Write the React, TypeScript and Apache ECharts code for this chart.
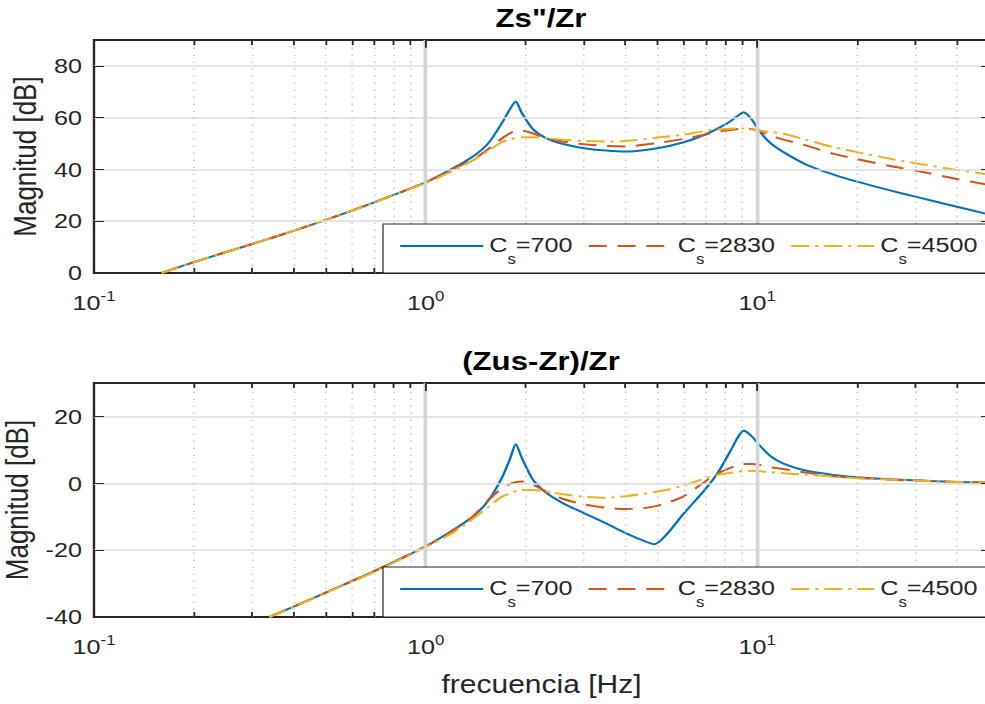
import React, { useEffect, useRef } from 'react';
import * as echarts from 'echarts';

// ---------- data ----------
const seriesNames = ['C_s=700', 'C_s=2830', 'C_s=4500'];

// Upper panel: Zs"/Zr
const freqTop = [0.16, 0.2, 0.3, 0.4, 0.5, 0.7, 1.0, 1.2, 1.4, 1.55, 1.7, 1.8, 1.87, 1.95, 2.1, 2.3, 2.6, 3.0, 3.5, 4.0, 5.0, 6.0, 7.0, 8.0, 8.7, 9.1, 9.6, 10.2, 11, 12, 14, 17, 20, 25, 30, 40, 50];
const topCs700 = [0, 4.2, 11.2, 16.3, 20.5, 27.3, 35.0, 40.2, 45.3, 50.3, 58.0, 63.5, 66.2, 61.8, 55.8, 52.2, 49.8, 48.2, 47.3, 46.9, 48.2, 50.5, 53.6, 57.3, 60.5, 62.1, 59.5, 54.5, 50.0, 46.7, 42.0, 38.0, 35.3, 32.0, 29.5, 25.6, 22.6];
const topCs2830 = [0, 4.2, 11.2, 16.3, 20.5, 27.3, 35.0, 40.0, 44.0, 48.0, 52.0, 54.0, 54.9, 55.0, 54.0, 52.1, 50.8, 49.7, 49.1, 48.9, 50.2, 51.8, 53.5, 55.0, 55.6, 55.9, 55.6, 54.7, 53.0, 51.5, 49.3, 46.0, 44.0, 41.4, 39.6, 36.3, 34.0];
const topCs4500 = [0, 4.2, 11.2, 16.3, 20.5, 27.2, 34.8, 39.3, 43.8, 47.3, 50.6, 51.6, 52.1, 52.4, 52.4, 52.1, 51.5, 51.0, 50.8, 51.0, 52.3, 53.4, 55.0, 55.6, 55.8, 55.8, 55.5, 55.0, 54.4, 53.8, 51.5, 48.6, 46.7, 44.2, 42.4, 39.8, 38.0];

// Lower panel: (Zus-Zr)/Zr
const freqBottom = [0.338, 0.4, 0.5, 0.7, 1.0, 1.2, 1.4, 1.55, 1.7, 1.8, 1.87, 1.95, 2.1, 2.3, 2.6, 3.0, 3.5, 4.0, 4.5, 4.9, 5.3, 6.0, 7.0, 7.7, 8.4, 8.8, 9.1, 9.6, 10.2, 11, 12, 14, 17, 20, 25, 30, 40, 50];
const botCs700 = [-40, -36.9, -32.7, -26.3, -18.9, -14.2, -9.7, -5.0, 1.7, 7.5, 11.7, 7.6, 1.3, -2.7, -6.0, -8.9, -12.0, -14.8, -17.0, -18.2, -15.6, -9.1, -1.6, 4.0, 10.6, 14.2, 15.7, 14.2, 11.2, 8.0, 5.9, 3.8, 2.5, 1.8, 1.2, 0.9, 0.4, 0.2];
const botCs2830 = [-40, -36.9, -32.7, -26.3, -18.9, -14.4, -9.6, -4.9, -1.5, -0.2, 0.3, 0.5, -0.4, -2.4, -4.7, -6.3, -7.3, -7.7, -7.5, -6.9, -6.0, -3.9, 0.7, 3.2, 4.8, 5.5, 5.8, 5.8, 5.5, 4.8, 4.3, 3.2, 2.1, 1.6, 1.1, 0.8, 0.4, 0.2];
const botCs4500 = [-40, -36.9, -32.8, -26.5, -19.1, -15.0, -10.4, -7.0, -4.0, -3.0, -2.4, -2.0, -2.0, -2.5, -3.3, -4.0, -4.3, -3.9, -3.2, -2.6, -2.0, -0.7, 1.6, 2.6, 3.2, 3.5, 3.6, 3.7, 3.6, 3.3, 3.0, 2.6, 2.0, 1.5, 1.1, 0.8, 0.4, 0.2];

// axes
const xMin = 0.1;
const xMax = 50;
const xMajorGrid = [1, 10];
const xMinorGrid = [0.2, 0.3, 0.4, 0.5, 0.6, 0.7, 0.8, 0.9, 2, 3, 4, 5, 6, 7, 8, 9, 20, 30, 40];
const topYMin = 0, topYMax = 90;
const topYGrid = [20, 40, 60, 80];
const botYMin = -40, botYMax = 30;
const botYGrid = [-20, 0, 20];

const titles = ['Zs"/Zr', '(Zus-Zr)/Zr'];
const yName = 'Magnitud [dB]';
const xName = 'frecuencia [Hz]';

// ---------- styling ----------
// The reference figure is stretched horizontally; draw narrower and stretch.
const SX = 1.2;
const W = Math.round(985 / SX);
const STRETCH = 985 / W;
const hx = (v: number) => v / STRETCH;

const COLORS = ['#0072BD', '#D95319', '#EDB120'];
const DASHES: any[] = ['solid', [15, 9], [15, 5, 2.5, 5]];
const FONT = "'Liberation Sans', Arial, Helvetica, sans-serif";
const TXT = '#262626';

const panels = [
  { freq: freqTop, vals: [topCs700, topCs2830, topCs4500], yMin: topYMin, yMax: topYMax, yGrid: topYGrid, top: 40, height: 233, legendTop: 224, legendPadB: 7, nameGap: hx(52), tickLen: 2.0, majLen: 3.0 },
  { freq: freqBottom, vals: [botCs700, botCs2830, botCs4500], yMin: botYMin, yMax: botYMax, yGrid: botYGrid, top: 383, height: 234, legendTop: 567, legendPadB: 8, nameGap: hx(61), tickLen: 1.5, majLen: 2.4 },
];

export default function App() {
  const ref = useRef<HTMLDivElement>(null);
  useEffect(() => {
    if (!ref.current) return;
    const chart = echarts.init(ref.current, null, { renderer: 'svg' });

    const grids: any[] = [];
    const xAxes: any[] = [];
    const yAxes: any[] = [];
    const series: any[] = [];
    const legends: any[] = [];

    panels.forEach((p, pi) => {
      grids.push({
        left: hx(94), right: -hx(4), top: p.top, height: p.height,
        containLabel: false, outerBoundsMode: 'none',
        show: true, borderColor: TXT, borderWidth: 2, backgroundColor: 'transparent', z: 0,
      });
      xAxes.push({
        type: 'log', logBase: 10, gridIndex: pi, min: xMin, max: xMax,
        axisLine: { show: false }, axisTick: { show: false }, splitLine: { show: false },
        axisLabel: {
          margin: 16, showMaxLabel: false, interval: 0, color: TXT,
          formatter: (v: number) => {
            const l = Math.log10(v);
            const e = Math.round(l);
            if (Math.abs(l - e) > 1e-6) return '';
            return `{b|10}{sup|${e}}`;
          },
          rich: {
            b: { fontSize: 21, lineHeight: 24, padding: [4, 0, 0, 0], verticalAlign: 'middle', color: TXT, fontFamily: FONT },
            sup: { fontSize: 14, lineHeight: 14, verticalAlign: 'top', color: TXT, fontFamily: FONT },
          },
        },
        name: pi === 1 ? xName : '', nameLocation: 'middle', nameGap: 55,
        nameTextStyle: { fontSize: 25, color: TXT, fontFamily: FONT },
        z: 5,
      });
      yAxes.push({
        type: 'value', gridIndex: pi, min: p.yMin, max: p.yMax, interval: 20, position: 'left',
        axisLine: { show: false },
        axisTick: { show: true, inside: true, length: hx(10), lineStyle: { color: TXT, width: 1 } },
        axisLabel: { fontSize: 21, color: TXT, margin: hx(12), showMaxLabel: false, fontFamily: FONT },
        splitLine: { show: false },
        name: yName, nameLocation: 'middle', nameGap: p.nameGap,
        nameTextStyle: { fontSize: 26, color: TXT, fontFamily: FONT },
        z: 5,
      });
      yAxes.push({
        type: 'value', gridIndex: pi, min: p.yMin, max: p.yMax, interval: 20, position: 'right',
        axisLine: { show: false },
        axisTick: { show: true, inside: true, length: hx(8), lineStyle: { color: TXT, width: 1 } },
        axisLabel: { show: false }, splitLine: { show: false },
        z: 5,
      });

      const gridLines: any[] = [];
      p.yGrid.forEach((v) => gridLines.push({ yAxis: v, lineStyle: { color: '#dcdcdc', width: 1.5, type: 'solid' } }));
      xMinorGrid.forEach((f) => gridLines.push({ xAxis: f, lineStyle: { color: '#c8c8c8', width: 1.3, type: [1.5, 5.5] } }));
      xMajorGrid.forEach((f) => gridLines.push({ xAxis: f, lineStyle: { color: '#d4d4d4', width: 3, type: 'solid' } }));
      const ticks: any[] = [];
      xMinorGrid.forEach((f) => {
        ticks.push([{ coord: [f, p.yMax] }, { coord: [f, p.yMax - p.tickLen] }]);
        ticks.push([{ coord: [f, p.yMin] }, { coord: [f, p.yMin + p.tickLen] }]);
      });
      xMajorGrid.forEach((f) => {
        ticks.push([{ coord: [f, p.yMax] }, { coord: [f, p.yMax - p.majLen] }]);
        ticks.push([{ coord: [f, p.yMin] }, { coord: [f, p.yMin + p.majLen] }]);
      });

      series.push({
        type: 'line', xAxisIndex: pi, yAxisIndex: pi * 2, data: [], silent: true, z: 1,
        markLine: { silent: true, symbol: ['none', 'none'], label: { show: false }, animation: false, data: gridLines },
      });
      series.push({
        type: 'line', xAxisIndex: pi, yAxisIndex: pi * 2, data: [], silent: true, z: 4,
        markLine: { silent: true, symbol: ['none', 'none'], label: { show: false }, animation: false, lineStyle: { color: TXT, width: 1.5, type: 'solid' }, data: ticks },
      });

      seriesNames.forEach((name, si) => {
        series.push({
          type: 'line', name, xAxisIndex: pi, yAxisIndex: pi * 2,
          data: p.freq.map((f, k) => [f, p.vals[si][k]]),
          symbol: 'none', showSymbol: false, smooth: 0.25, clip: true, z: 2,
          lineStyle: { color: COLORS[si], width: 2, type: DASHES[si] },
          itemStyle: { color: COLORS[si] },
        });
      });

      legends.push({
        data: seriesNames, left: hx(383), top: p.legendTop, orient: 'horizontal',
        width: hx(640),
        itemWidth: hx(83), itemHeight: 14, itemGap: hx(15),
        padding: [10, 10, p.legendPadB, hx(16)],
        backgroundColor: '#ffffff', borderColor: TXT, borderWidth: 1, borderRadius: 0,
        selectedMode: false, z: 10,
        itemStyle: { opacity: 0 },
        formatter: (name: string) => {
          const m = name.match(/^C_s(=.*)$/);
          return m ? `{m|C}{sub|s}{m|${m[1]}}` : name;
        },
        textStyle: {
          fontSize: 21, color: TXT, fontFamily: FONT,
          rich: {
            m: { fontSize: 21, lineHeight: 24, verticalAlign: 'top', color: TXT, fontFamily: FONT },
            sub: { fontSize: 14, lineHeight: 14, padding: [18, 0, 0, 0], verticalAlign: 'top', color: TXT, fontFamily: FONT },
          },
        },
      });
    });

    chart.setOption({
      animation: false,
      backgroundColor: '#ffffff',
      grid: grids,
      xAxis: xAxes,
      yAxis: yAxes,
      series,
      legend: legends,
      graphic: [
        { type: 'text', x: hx(541), y: 18, style: { text: titles[0], fontSize: 26, fontWeight: 'bold', fontFamily: FONT, fill: '#000', align: 'center', verticalAlign: 'middle' } },
        { type: 'text', x: hx(541), y: 361, style: { text: titles[1], fontSize: 26, fontWeight: 'bold', fontFamily: FONT, fill: '#000', align: 'center', verticalAlign: 'middle' } },
      ],
    });
    return () => chart.dispose();
  }, []);
  return (
    <div style={{ position: 'fixed', left: 0, top: 0, width: 985, height: 704, overflow: 'hidden', background: '#fff' }}>
      <div ref={ref} style={{ width: W, height: 704, transform: `scaleX(${STRETCH})`, transformOrigin: '0 0' }} />
    </div>
  );
}
